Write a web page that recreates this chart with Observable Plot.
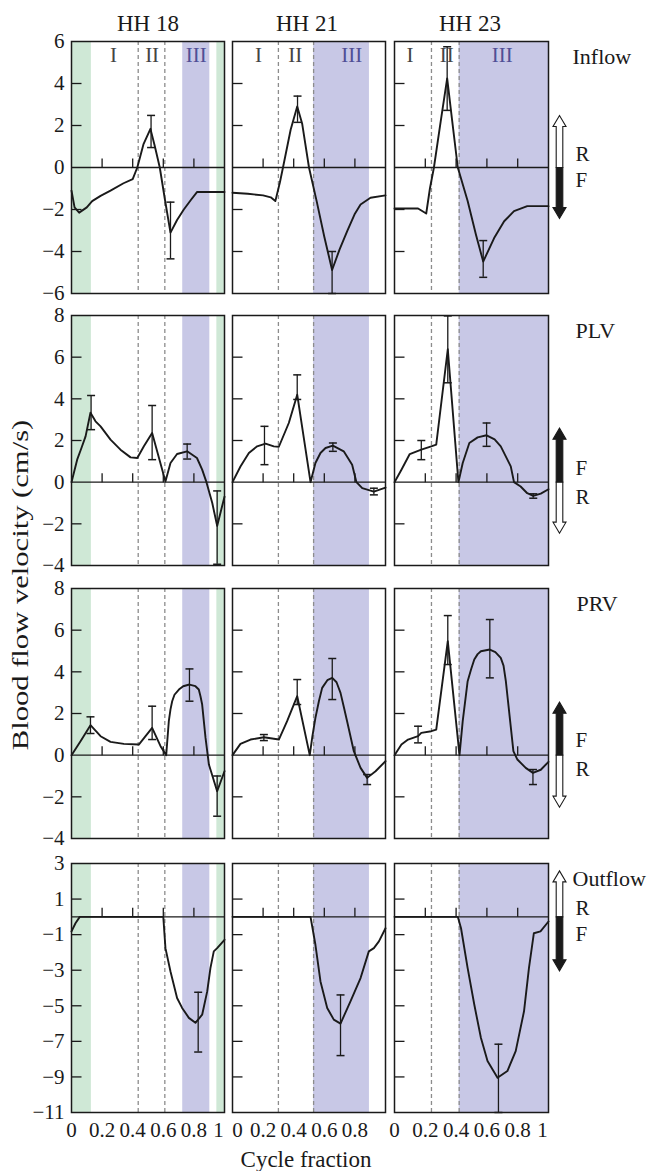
<!DOCTYPE html>
<html>
<head>
<meta charset="utf-8">
<script src="https://cdn.jsdelivr.net/npm/d3@7"></script>
<script src="https://cdn.jsdelivr.net/npm/@observablehq/plot@0.6"></script>
<style>
  body { margin: 0; background: #fff; }
  #root { position: relative; width: 652px; height: 1171px; overflow: hidden; background: #fff;
          font-family: "Liberation Serif", "DejaVu Serif", serif; color: #1a1a1a; }
  .lbl { position: absolute; white-space: nowrap; line-height: 1; }
</style>
</head>
<body>
<div id="root"></div>
<script>
// ---------------- data ----------------
const stages = ["HH 18", "HH 21", "HH 23"];
const flowNames = ["Inflow", "PLV", "PRV", "Outflow"];
const yDomains = [[-6, 6], [-4, 8], [-4, 8], [-11, 3]];
const yTicks = [
  [-6, -4, -2, 0, 2, 4, 6],
  [-4, -2, 0, 2, 4, 6, 8],
  [-4, -2, 0, 2, 4, 6, 8],
  [-11, -9, -7, -5, -3, -1, 1, 3]
];
const xTickLabels = [[0, 0.2, 0.4, 0.6, 0.8, 1], [0, 0.2, 0.4, 0.6, 0.8], [0, 0.2, 0.4, 0.6, 0.8, 1]];
const zeroLineTicks = [0.2, 0.4, 0.6, 0.8];

// cardiac phases per stage (cycle fraction)
const greenBands = [[[0, 0.13], [0.95, 1]], [], []];
const blueBands = [[[0.727, 0.904]], [[0.53, 0.895]], [[0.42, 1]]];
const phaseBoundaries = [[0.436, 0.61], [0.30, 0.53], [0.24, 0.42]];
const phaseNames = ["I", "II", "III"];
const phaseLabelX = [[0.275, 0.527, 0.815], [0.17, 0.41, 0.78], [0.10, 0.34, 0.70]];
const upperDirection = ["R", "F", "F", "R"];
const lowerDirection = ["F", "R", "R", "F"];

// mean velocity curves [cycle fraction, cm/s]
const inflowHH18 = [[0,-1.1],[0.02,-1.9],[0.05,-2.15],[0.1,-1.9],[0.135,-1.6],[0.19,-1.35],[0.255,-1.1],[0.34,-0.75],[0.40,-0.55],[0.43,0],[0.47,1.1],[0.516,1.84],[0.545,1.0],[0.577,0],[0.61,-1.5],[0.647,-3.1],[0.69,-2.5],[0.734,-2.0],[0.78,-1.55],[0.82,-1.17],[0.9,-1.17],[1,-1.17]];
const inflowHH21 = [[0,-1.2],[0.1,-1.25],[0.2,-1.33],[0.25,-1.42],[0.28,-1.6],[0.31,-0.7],[0.33,0],[0.38,1.8],[0.423,2.91],[0.455,2.1],[0.5,0],[0.55,-1.6],[0.6,-3.3],[0.651,-4.88],[0.7,-3.9],[0.749,-3.04],[0.8,-2.2],[0.837,-1.76],[0.902,-1.44],[1,-1.33]];
const inflowHH23 = [[0,-1.95],[0.153,-1.95],[0.206,-2.19],[0.23,-1.0],[0.256,0],[0.30,2.2],[0.342,4.24],[0.375,2.2],[0.411,0],[0.475,-1.6],[0.529,-3.2],[0.576,-4.48],[0.647,-3.36],[0.712,-2.56],[0.776,-2.08],[0.862,-1.84],[1,-1.84]];

const plvHH18 = [[0,0],[0.037,1.08],[0.065,1.64],[0.092,2.2],[0.124,3.33],[0.157,2.92],[0.19,2.68],[0.255,2.04],[0.32,1.56],[0.386,1.19],[0.43,1.16],[0.473,1.72],[0.527,2.36],[0.614,0.03],[0.647,0.92],[0.69,1.35],[0.756,1.48],[0.82,1.16],[0.854,0.6],[0.882,0],[0.92,-1.0],[0.952,-2.1],[1,-0.7]];
const plvHH21 = [[0,0],[0.052,0.75],[0.107,1.4],[0.161,1.72],[0.216,1.85],[0.27,1.72],[0.303,1.7],[0.368,2.84],[0.423,4.2],[0.51,0],[0.542,0.92],[0.575,1.4],[0.608,1.64],[0.656,1.75],[0.727,1.48],[0.782,0.84],[0.81,0],[0.848,-0.29],[0.924,-0.45],[1,-0.26]];
const plvHH23 = [[0,0],[0.045,0.6],[0.099,1.35],[0.174,1.56],[0.239,1.72],[0.271,1.8],[0.346,6.38],[0.415,0],[0.443,0.92],[0.486,1.88],[0.54,2.15],[0.598,2.25],[0.65,2.05],[0.69,1.72],[0.755,0.76],[0.776,0],[0.819,-0.21],[0.862,-0.53],[0.901,-0.66],[0.95,-0.55],[1,-0.34]];

const prvHH18 = [[0,0],[0.059,0.67],[0.124,1.44],[0.19,0.91],[0.255,0.64],[0.342,0.54],[0.44,0.51],[0.484,0.91],[0.527,1.31],[0.582,0.43],[0.619,0],[0.636,1.63],[0.647,2.2],[0.658,2.59],[0.673,2.9],[0.702,3.15],[0.73,3.31],[0.771,3.39],[0.81,3.31],[0.832,3.15],[0.843,2.83],[0.854,2.43],[0.876,0.83],[0.898,-0.45],[0.952,-1.73],[1,-0.77]];
const prvHH21 = [[0,0],[0.052,0.54],[0.118,0.75],[0.205,0.86],[0.303,0.75],[0.357,1.63],[0.423,2.83],[0.505,0],[0.522,0.9],[0.542,1.79],[0.565,2.6],[0.586,3.23],[0.62,3.6],[0.652,3.71],[0.68,3.5],[0.706,2.99],[0.728,2.3],[0.749,1.63],[0.793,0.19],[0.837,-0.61],[0.88,-1.09],[0.935,-0.77],[1,-0.29]];
const prvHH23 = [[0,0],[0.045,0.51],[0.088,0.75],[0.153,0.91],[0.174,1.07],[0.239,1.15],[0.271,1.23],[0.346,5.47],[0.422,0],[0.443,1.63],[0.475,3.55],[0.497,4.11],[0.518,4.59],[0.54,4.85],[0.561,4.99],[0.619,5.07],[0.655,4.95],[0.69,4.67],[0.708,4.3],[0.723,3.55],[0.744,2.11],[0.772,0.19],[0.798,-0.21],[0.852,-0.61],[0.899,-0.85],[0.95,-0.7],[1,-0.32]];

const outflowHH18 = [[0,-0.82],[0.026,-0.36],[0.054,0],[0.6,0],[0.614,-1.76],[0.647,-3.07],[0.69,-4.56],[0.723,-5.12],[0.767,-5.68],[0.81,-5.96],[0.854,-5.5],[0.887,-4.19],[0.908,-2.88],[0.93,-1.94],[0.952,-1.76],[1,-1.29]];
const outflowHH21 = [[0,0],[0.51,0],[0.542,-1.57],[0.575,-3.63],[0.619,-5.12],[0.662,-5.78],[0.706,-6.0],[0.771,-4.75],[0.837,-3.44],[0.891,-1.94],[0.924,-1.76],[0.957,-1.38],[1,-0.64]];
const outflowHH23 = [[0,0],[0.411,0],[0.432,-0.64],[0.475,-2.88],[0.518,-4.93],[0.561,-6.8],[0.604,-8.11],[0.669,-9.05],[0.733,-8.67],[0.787,-7.55],[0.841,-5.31],[0.873,-2.88],[0.905,-0.92],[0.948,-0.82],[1,-0.26]];

// error bars [cycle fraction, low, high]
const inflowErrHH18 = [[0.52,0.95,2.48],[0.647,-4.35,-1.65]];
const inflowErrHH21 = [[0.425,2.15,3.4],[0.651,-6.0,-4.0]];
const inflowErrHH23 = [[0.342,2.72,5.75],[0.576,-5.23,-3.48]];
const plvErrHH18 = [[0.128,2.52,4.16],[0.527,1.08,3.68],[0.756,1.11,1.83],[0.952,-3.94,-0.42]];
const plvErrHH21 = [[0.209,0.84,2.68],[0.423,3.97,5.15],[0.656,1.48,1.88],[0.924,-0.61,-0.29]];
const plvErrHH23 = [[0.174,1.08,2.0],[0.346,4.77,7.98],[0.598,1.72,2.84],[0.901,-0.77,-0.56]];
const prvErrHH18 = [[0.124,1.04,1.84],[0.527,0.75,2.35],[0.771,2.59,4.14],[0.952,-2.93,-1.0]];
const prvErrHH21 = [[0.205,0.7,0.99],[0.423,2.43,3.63],[0.652,2.67,4.64],[0.88,-1.41,-0.93]];
const prvErrHH23 = [[0.153,0.59,1.39],[0.346,4.35,6.7],[0.619,3.71,6.51],[0.899,-1.41,-0.69]];
const outflowErrHH18 = [[0.828,-7.6,-4.24]];
const outflowErrHH21 = [[0.706,-7.8,-4.39]];
const outflowErrHH23 = [[0.675,-11,-7.16]];

const curves = [
  [inflowHH18, inflowHH21, inflowHH23],
  [plvHH18, plvHH21, plvHH23],
  [prvHH18, prvHH21, prvHH23],
  [outflowHH18, outflowHH21, outflowHH23]
];
const errorBars = [
  [inflowErrHH18, inflowErrHH21, inflowErrHH23],
  [plvErrHH18, plvErrHH21, plvErrHH23],
  [prvErrHH18, prvErrHH21, prvErrHH23],
  [outflowErrHH18, outflowErrHH21, outflowErrHH23]
];

// ---------------- layout / style ----------------
const colLeft = [71, 232, 394], colWidth = [153, 153, 154];
const rowTop = [41, 315, 588, 863], rowHeight = [252, 250, 250, 249];
const arrowLen = [[52, 51], [54, 51], [53, 52], [46, 54]];
const dirDy = [[-13, 13], [-14, 15], [-15, 14], [-9, 17]];
const nameDx = [24, 27, 28, 24];
const ink = "#1a1a1a";
const fontFamily = '"Liberation Serif", "DejaVu Serif", serif';
const fmt = v => (v < 0 ? "\u2212" + Math.abs(v) : String(v));
const xLabelNudge = (c, v) => (v === 1 ? -6 : (v === 0 && c === 1 ? 5 : 0));

const segUp = len => ({draw(ctx) { ctx.moveTo(0, 0); ctx.lineTo(0, -len); }});
const segRight = len => ({draw(ctx) { ctx.moveTo(0, 0); ctx.lineTo(len, 0); }});
const capSym = w => ({draw(ctx) { ctx.moveTo(-w / 2, 0); ctx.lineTo(w / 2, 0); }});
function blockArrow(len, dir) {
  const sw = 3.3, hw = 6.5, hl = 11;
  return {draw(ctx) {
    const t = dir * len, b = dir * (len - hl);
    ctx.moveTo(-sw, 0); ctx.lineTo(-sw, b); ctx.lineTo(-hw, b); ctx.lineTo(0, t);
    ctx.lineTo(hw, b); ctx.lineTo(sw, b); ctx.lineTo(sw, 0); ctx.closePath();
  }};
}

const root = document.getElementById("root");

function panel(r, c) {
  const mL = c === 0 ? 60 : 6, mR = c === 2 ? 100 : 6, mT = 6, mB = r === 3 ? 36 : 6;
  const W = colWidth[c], H = rowHeight[r];
  const [ylo, yhi] = yDomains[r];
  const err = errorBars[r][c];
  const marks = [
    Plot.rect(greenBands[c], {x1: d => d[0], x2: d => d[1], y1: ylo, y2: yhi, fill: "#cfe8d6"}),
    Plot.rect(blueBands[c], {x1: d => d[0], x2: d => d[1], y1: ylo, y2: yhi, fill: "#c8c8e6"}),
    Plot.ruleX(phaseBoundaries[c], {stroke: "#8c8c8c", strokeWidth: 1.3, strokeDasharray: "4,3"}),
    Plot.ruleY([0], {stroke: ink, strokeWidth: 1.3}),
    Plot.dot(zeroLineTicks, {x: d => d, y: 0, symbol: segUp(9), fill: "none", stroke: ink, strokeWidth: 1.3}),
    Plot.dot(yTicks[r].filter(v => v !== 0 && v > ylo && v < yhi), {x: 0, y: d => d, symbol: segRight(10), fill: "none", stroke: ink, strokeWidth: 1.3}),
    Plot.line(curves[r][c], {x: d => d[0], y: d => d[1], stroke: ink, strokeWidth: 1.9, strokeLinejoin: "round"}),
    Plot.ruleX(err, {x: d => d[0], y1: d => d[1], y2: d => d[2], stroke: ink, strokeWidth: 1.3}),
    Plot.dot(err, {x: d => d[0], y: d => d[1], symbol: capSym(8), fill: "none", stroke: ink, strokeWidth: 1.5}),
    Plot.dot(err, {x: d => d[0], y: d => d[2], symbol: capSym(8), fill: "none", stroke: ink, strokeWidth: 1.5}),
    Plot.frame({stroke: ink, strokeWidth: 1.5})
  ];
  if (r === 0) {
    marks.push(Plot.text([0, 1], {x: i => phaseLabelX[c][i], text: i => phaseNames[i], frameAnchor: "top", lineAnchor: "middle", dy: 14, fontSize: 21, fill: "#444"}));
    marks.push(Plot.text([2], {x: i => phaseLabelX[c][i], text: i => phaseNames[i], frameAnchor: "top", lineAnchor: "middle", dy: 14, fontSize: 21, fill: "#4f4f95"}));
  }
  if (c === 0) {
    marks.push(Plot.text(yTicks[r], {x: 0, y: d => d, text: fmt, textAnchor: "end", lineAnchor: "middle", dx: -7, fontSize: 21, fill: ink}));
  }
  if (r === 3) {
    for (const v of xTickLabels[c]) {
      marks.push(Plot.text([v], {x: d => d, text: d => String(d), frameAnchor: "bottom", lineAnchor: "middle", dy: 18, dx: xLabelNudge(c, v), fontSize: 21, fill: ink}));
    }
  }
  if (c === 2) {
    const up = upperDirection[r] === "F";
    marks.push(Plot.dot([0], {y: d => d, frameAnchor: "right", dx: 11, symbol: blockArrow(arrowLen[r][0], -1), fill: up ? ink : "#fff", stroke: ink, strokeWidth: 1.1}));
    marks.push(Plot.dot([0], {y: d => d, frameAnchor: "right", dx: 11, symbol: blockArrow(arrowLen[r][1], 1), fill: up ? "#fff" : ink, stroke: ink, strokeWidth: 1.1}));
    marks.push(Plot.text([upperDirection[r]], {y: 0, text: d => d, frameAnchor: "right", lineAnchor: "middle", dx: 27, dy: dirDy[r][0], textAnchor: "start", fontSize: 21, fill: ink}));
    marks.push(Plot.text([lowerDirection[r]], {y: 0, text: d => d, frameAnchor: "right", lineAnchor: "middle", dx: 27, dy: dirDy[r][1], textAnchor: "start", fontSize: 21, fill: ink}));
    marks.push(Plot.text([flowNames[r]], {text: d => d, frameAnchor: "top-right", lineAnchor: "middle", dx: nameDx[r], dy: 15, textAnchor: "start", fontSize: 22, fill: ink}));
  }
  const svg = Plot.plot({
    width: W + mL + mR, height: H + mT + mB,
    marginLeft: mL, marginRight: mR, marginTop: mT, marginBottom: mB,
    style: {fontFamily, background: "transparent", overflow: "visible", color: ink},
    x: {domain: [0, 1], axis: null},
    y: {domain: yDomains[r], axis: null},
    marks
  });
  svg.style.position = "absolute";
  svg.style.left = (colLeft[c] - mL) + "px";
  svg.style.top = (rowTop[r] - mT) + "px";
  root.appendChild(svg);
}

for (let r = 0; r < 4; r++) for (let c = 0; c < 3; c++) panel(r, c);

function label(text, cx, cy, size, transform) {
  const d = document.createElement("div");
  d.className = "lbl";
  d.textContent = text;
  d.style.left = cx + "px";
  d.style.top = cy + "px";
  d.style.fontSize = size + "px";
  d.style.transform = "translate(-50%, -50%)" + (transform || "");
  root.appendChild(d);
}
const titleX = [148, 307, 470];
stages.forEach((s, i) => label(s, titleX[i], 23, 23));
label("Blood flow velocity (cm/s)", 20, 585, 23, " rotate(-90deg) scaleX(1.33)");
label("Cycle fraction", 306, 1159, 23);
</script>
</body>
</html>
